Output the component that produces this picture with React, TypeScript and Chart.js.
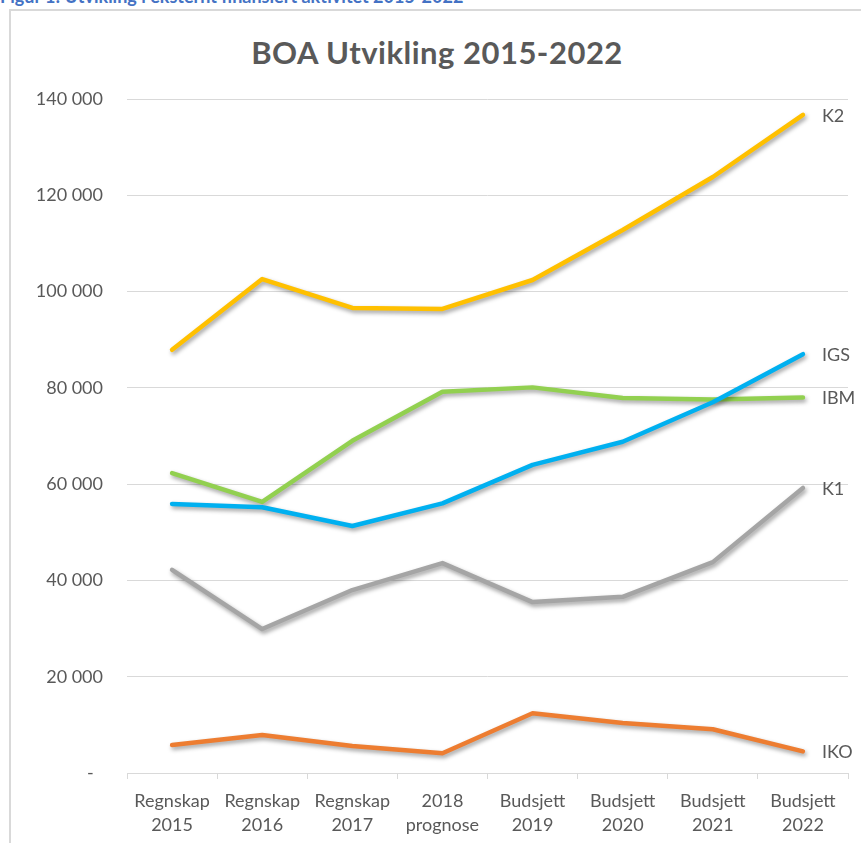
import React, { useEffect, useRef } from "react";
import { Chart, registerables } from "chart.js";

Chart.register(...registerables);

// ---- data ----
const categories: string[][] = [
  ["Regnskap", "2015"],
  ["Regnskap", "2016"],
  ["Regnskap", "2017"],
  ["2018", "prognose"],
  ["Budsjett", "2019"],
  ["Budsjett", "2020"],
  ["Budsjett", "2021"],
  ["Budsjett", "2022"],
];
const seriesNames = ["K2", "IGS", "IBM", "K1", "IKO"];
const k2Values = [87900, 102600, 96600, 96400, 102400, 112800, 123800, 136700];
const igsValues = [55900, 55200, 51300, 56000, 64000, 68800, 77000, 87000];
const ibmValues = [62300, 56300, 69000, 79200, 80100, 77900, 77600, 78000];
const k1Values = [42200, 29900, 38000, 43600, 35500, 36600, 43800, 59200];
const ikoValues = [5800, 7900, 5600, 4100, 12400, 10400, 9100, 4500];
const seriesColors = ["#FFC000", "#00B0F0", "#92D050", "#A5A5A5", "#ED7D31"];
const yMin = 0;
const yMax = 140000;
const yStep = 20000;

const chartTitle = "BOA Utvikling 2015-2022";
const caption = "Figur 1: Utvikling i eksternt finansiert aktivitet 2015-2022";

const FONT = "Lato";
const TEXT = "#595959";

function fmt(v: number): string {
  if (v === 0) return "-  ";
  return String(Math.round(v)).replace(/\B(?=(\d{3})+(?!\d))/g, " ");
}

const shadowPlugin = {
  id: "lineShadow",
  beforeDatasetDraw(chart: any) {
    const c = chart.ctx;
    c.save();
    c.shadowColor = "rgba(0,0,0,0.38)";
    c.shadowBlur = 4;
    c.shadowOffsetX = 1.5;
    c.shadowOffsetY = 2.5;
  },
  afterDatasetDraw(chart: any) {
    chart.ctx.restore();
  },
};

const endLabelPlugin = {
  id: "endLabels",
  afterDatasetsDraw(chart: any) {
    const ctx = chart.ctx;
    chart.data.datasets.forEach((ds: any, i: number) => {
      const meta = chart.getDatasetMeta(i);
      const last = meta.data[meta.data.length - 1];
      if (!last) return;
      ctx.save();
      ctx.font = `18px ${FONT}`;
      ctx.fillStyle = TEXT;
      ctx.textAlign = "left";
      ctx.textBaseline = "middle";
      ctx.fillText(ds.label, last.x + 19, last.y + 1);
      ctx.restore();
    });
  },
};

export default function App() {
  const canvasRef = useRef<HTMLCanvasElement | null>(null);

  useEffect(() => {
    if (!canvasRef.current) return;
    const allValues = [k2Values, igsValues, ibmValues, k1Values, ikoValues];
    const chart = new Chart(canvasRef.current, {
      type: "line",
      data: {
        labels: categories as any,
        datasets: seriesNames.map((name, i) => ({
          label: name,
          data: allValues[i],
          borderColor: seriesColors[i],
          backgroundColor: seriesColors[i],
          borderWidth: 4.5,
          pointRadius: 0,
          pointHoverRadius: 0,
          tension: 0,
          fill: false,
          borderCapStyle: "round",
          borderJoinStyle: "round",
        })) as any,
      },
      options: {
        animation: false,
        responsive: false,
        maintainAspectRatio: false,
        layout: { padding: { left: 0, right: 13, top: 99, bottom: 0 } },
        plugins: {
          legend: { display: false },
          tooltip: { enabled: false },
          title: { display: false },
        },
        scales: {
          x: {
            type: "category",
            offset: true,
            grid: {
              display: true,
              drawOnChartArea: false,
              drawTicks: true,
              tickLength: 6,
              color: "#d9d9d9",
              offset: true,
            },
            border: { display: true, color: "#d9d9d9", width: 1 },
            ticks: {
              color: TEXT,
              font: { family: FONT, size: 18, lineHeight: 1.333 },
              padding: 10,
              maxRotation: 0,
              minRotation: 0,
              autoSkip: false,
            },
            afterFit: (s: any) => {
              s.height = 70;
            },
          },
          y: {
            min: yMin,
            max: yMax,
            ticks: {
              stepSize: yStep,
              color: TEXT,
              font: { family: FONT, size: 18 },
              padding: 24,
              callback: (v: any) => fmt(Number(v)),
            },
            grid: { color: "#d9d9d9", drawTicks: false, lineWidth: 1 },
            border: { display: false },
            afterFit: (s: any) => {
              s.width = 127;
            },
          },
        },
      },
      plugins: [shadowPlugin, endLabelPlugin],
    } as any);
    return () => chart.destroy();
  }, []);

  return (
    <div
      style={{
        position: "absolute",
        left: 0,
        top: 0,
        width: 861,
        height: 843,
        overflow: "hidden",
        background: "#ffffff",
      }}
    >
      <div
        style={{
          position: "absolute",
          left: 0,
          top: -13,
          fontFamily: FONT,
          fontWeight: 700,
          fontSize: 18,
          lineHeight: "18px",
          color: "#4472C4",
          whiteSpace: "nowrap",
        }}
      >
        {caption}
      </div>
      <div
        style={{
          position: "absolute",
          left: 9,
          top: 9,
          width: 900,
          height: 900,
          borderLeft: "2px solid #d9d9d9",
          borderTop: "2px solid #d9d9d9",
        }}
      />
      <div
        style={{
          position: "absolute",
          left: 0,
          top: 34,
          width: 874,
          textAlign: "center",
          fontFamily: FONT,
          fontWeight: 700,
          fontSize: 31,
          letterSpacing: "0.5px",
          lineHeight: "36px",
          color: TEXT,
          whiteSpace: "nowrap",
        }}
      >
        {chartTitle}
      </div>
      <canvas
        ref={canvasRef}
        width={861}
        height={843}
        style={{ position: "absolute", left: 0, top: 0, width: 861, height: 843 }}
      />
    </div>
  );
}
